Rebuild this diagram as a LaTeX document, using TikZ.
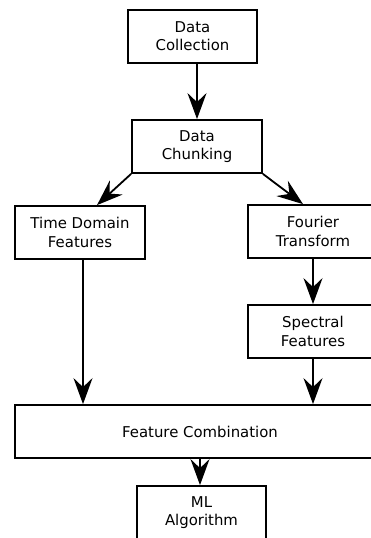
\documentclass[tikz,border=0pt]{standalone}
\usepackage{fontspec}
\setmainfont{DejaVu Sans}
\usetikzlibrary{arrows.meta}
\begin{document}
\begin{tikzpicture}[x=1pt,y=-1pt,
  box/.style={draw,line width=1.8pt,minimum height=53pt,inner sep=0pt,align=center,
    font=\fontsize{14.9}{18.3}\selectfont},
  arr/.style={line width=1.8pt,-{Stealth[length=26pt,width=19pt,inset=9pt]}}]
\useasboundingbox (0,0) rectangle (371,538);
\node[box,minimum width=129pt] (coll) at (192.5,36.5) {Data\\Collection};
\node[box,minimum width=130pt] (chunk) at (197,146.5) {Data\\Chunking};
\node[box,minimum width=130pt] (time) at (80,232.5) {Time Domain\\Features};
\node[box,minimum width=130pt] (four) at (313,231.5) {Fourier\\Transform};
\node[box,minimum width=130pt] (spec) at (313,331.5) {Spectral\\Features};
\node[box,minimum width=370pt] (comb) at (200,431.5) {Feature Combination};
\node[box,minimum width=129pt] (ml) at (201.5,512.5) {ML\\Algorithm};
\draw[arr] (chunk.north |- coll.south) -- (chunk.north);
\draw[arr] (chunk.south west) -- ([xshift=17pt]time.north);
\draw[arr] (chunk.south east) -- ([xshift=-10pt]four.north);
\draw[arr] (four.south) -- (spec.north);
\draw[arr] (spec.south) -- (spec.south |- comb.north);
\draw[arr] ([xshift=3pt]time.south) -- ([xshift=3pt]time.south |- comb.north);
\draw[arr] ([xshift=-1.5pt]ml.north |- comb.south) -- ([xshift=-1.5pt]ml.north);
\end{tikzpicture}
\end{document}
